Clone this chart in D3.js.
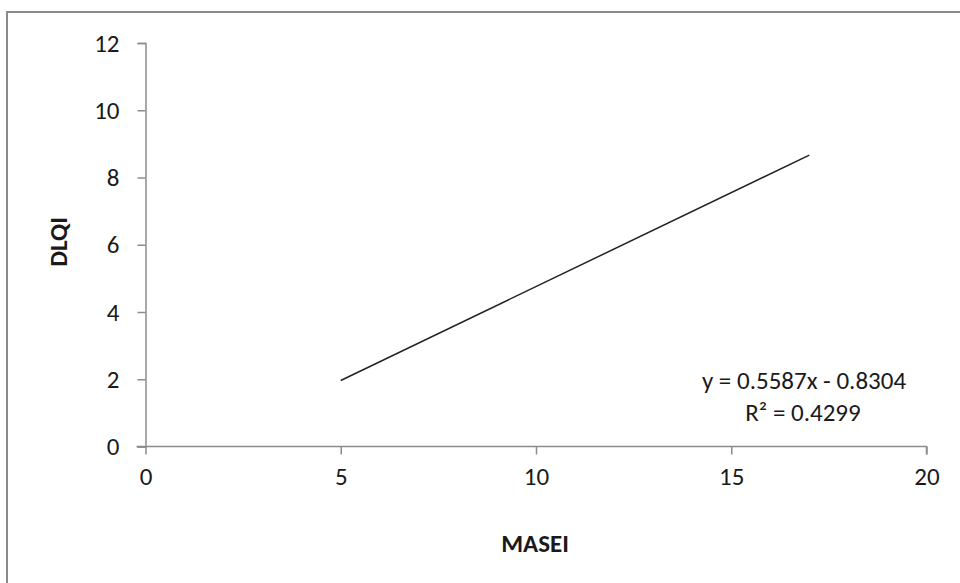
<!DOCTYPE html>
<html><head><meta charset="utf-8">
<script src="https://cdn.jsdelivr.net/npm/d3@7"></script>
<style>
html,body{margin:0;padding:0;background:#fff;}
svg{display:block;}
text{font-family:Carlito,Lato,"Open Sans",sans-serif;fill:#1a1a1a;}
</style></head>
<body>
<script>
const xTicks = [0, 5, 10, 15, 20];
const yTicks = [0, 2, 4, 6, 8, 10, 12];
const trendX = [5, 17];
const slope = 0.5587;
const intercept = -0.8304;
const equationLines = ["y = 0.5587x - 0.8304", "R² = 0.4299"];
const xTitle = "MASEI";
const yTitle = "DLQI";

const W = 960, H = 583;
const svg = d3.select("body").append("svg").attr("width", W).attr("height", H);

svg.append("rect").attr("x", 7).attr("y", 12).attr("width", 1000).attr("height", 700)
  .attr("fill", "#fff").attr("stroke", "#8a8a8a").attr("stroke-width", 2);

const x = d3.scaleLinear().domain([0, 20]).range([145.5, 926.5]);
const y = d3.scaleLinear().domain([0, 12]).range([446.5, 43]);

const axisColor = "#8c8c8c";
const fs = 25;

const gx = svg.append("g").attr("transform", `translate(0,${y(0)})`)
  .call(d3.axisBottom(x).tickValues(xTicks).tickSize(8).tickPadding(13).tickFormat(d3.format("d")));
const gy = svg.append("g").attr("transform", `translate(${x(0)},0)`)
  .call(d3.axisLeft(y).tickValues(yTicks).tickSize(8).tickPadding(18).tickFormat(d3.format("d")));
[gx, gy].forEach(g => {
  g.selectAll("path.domain").attr("stroke", axisColor).attr("stroke-width", 1.5);
  g.selectAll(".tick line").attr("stroke", axisColor).attr("stroke-width", 1.5);
  g.selectAll(".tick text").attr("font-size", fs).attr("fill", "#1a1a1a");
});
gx.select("path.domain").attr("d", `M${x(0)-9},0H${x(20)}V8`);
gx.selectAll(".tick text").attr("dy", "0.71em");

const line = d3.line().x(d => x(d)).y(d => y(slope * d + intercept));
svg.append("path").datum(trendX).attr("d", line)
  .attr("fill", "none").attr("stroke", "#222").attr("stroke-width", 1.5);

svg.append("text").attr("x", 804).attr("y", 380).attr("text-anchor", "middle")
  .attr("dominant-baseline", "central").attr("font-size", fs).text(equationLines[0]);
svg.append("text").attr("x", 803).attr("y", 412).attr("text-anchor", "middle")
  .attr("dominant-baseline", "central").attr("font-size", fs).text(equationLines[1]);

svg.append("text").attr("x", 535).attr("y", 543).attr("text-anchor", "middle")
  .attr("dominant-baseline", "central").attr("font-size", fs).attr("font-weight", "bold").text(xTitle);
svg.append("text").attr("transform", "translate(58,242) rotate(-90)").attr("text-anchor", "middle")
  .attr("dominant-baseline", "central").attr("font-size", fs).attr("font-weight", "bold").text(yTitle);
</script>
</body></html>
